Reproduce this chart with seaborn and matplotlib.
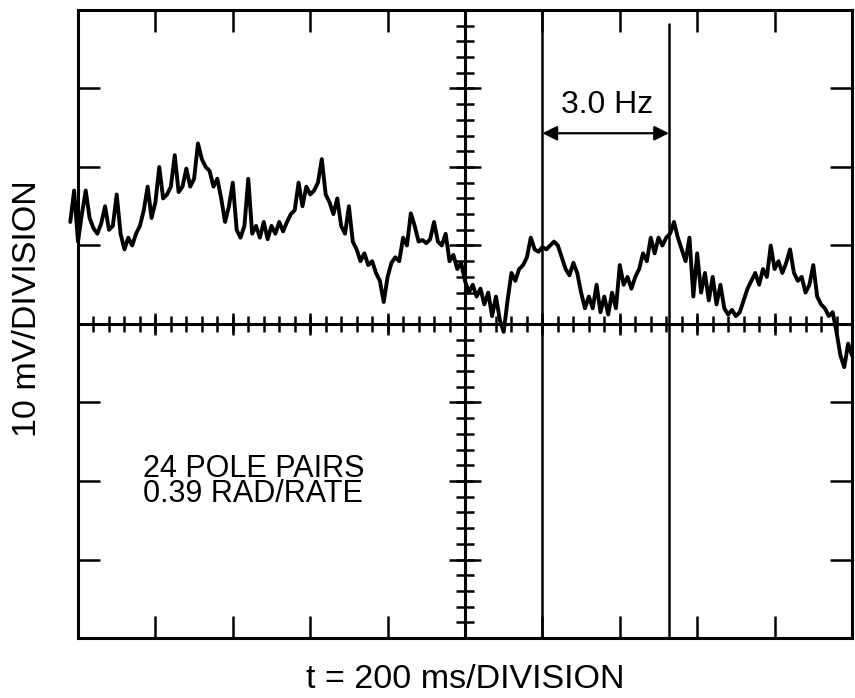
import matplotlib
matplotlib.use("Agg")
import matplotlib.pyplot as plt
import numpy as np
import pandas as pd
import seaborn as sns

# Oscilloscope trace: 10 ms per sample, starting at -20 ms
START_MS = -20
SAMPLE_MS = 10
TRACE_MV = [
    13.0, 17.0, 10.5, 14.0, 17.0, 13.5, 12.2, 11.5, 12.8, 15.0,
    12.0, 12.5, 16.5, 11.5, 9.5, 11.0, 10.0, 11.5, 12.5, 14.5,
    17.5, 13.5, 15.5, 20.0, 16.0, 16.5, 17.5, 21.5, 16.8, 17.5,
    19.8, 17.5, 18.5, 23.0, 21.0, 20.0, 19.5, 17.5, 18.5, 16.0,
    13.0, 15.0, 18.0, 12.0, 11.0, 12.5, 18.5, 11.5, 12.5, 11.0,
    13.0, 10.8, 12.5, 11.5, 13.0, 11.8, 13.0, 14.0, 14.5, 18.0,
    15.0, 17.5, 16.5, 17.0, 18.0, 21.0, 16.5, 15.5, 14.0, 16.0,
    12.5, 11.5, 15.0, 10.5, 9.5, 8.0, 9.0, 7.5, 8.0, 6.5,
    5.5, 2.8, 6.0, 7.8, 8.5, 8.0, 11.0, 10.0, 14.1, 12.5,
    10.5, 10.7, 10.3, 10.8, 13.0, 10.5, 10.0, 11.5, 8.0, 8.8,
    7.0, 7.8, 5.5, 4.0, 5.0, 3.5, 4.5, 2.5, 4.0, 1.0,
    3.5, 0.5, -1.0, 3.0, 6.5, 5.5, 7.0, 7.5, 8.5, 11.0,
    9.5, 9.2, 9.8, 9.5, 10.0, 10.5, 10.0, 8.5, 7.0, 6.2,
    7.8, 6.5, 4.0, 2.0, 3.5, 2.0, 5.0, 1.5, 3.5, 1.2,
    4.0, 2.0, 7.5, 5.0, 6.0, 4.5, 6.0, 7.0, 9.0, 8.0,
    11.0, 9.0, 11.0, 10.0, 11.0, 11.5, 13.0, 11.0, 9.5, 8.0,
    11.0, 3.5, 9.0, 4.0, 6.5, 3.0, 6.0, 2.5, 5.0, 2.0,
    1.2, 1.8, 1.0, 1.5, 3.0, 4.5, 5.5, 6.5, 5.0, 7.0,
    6.0, 10.0, 7.0, 8.0, 6.5, 7.8, 9.5, 6.5, 5.5, 6.0,
    4.0, 5.0, 7.5, 3.5, 2.5, 2.0, 1.0, 1.5, -1.0, -4.0,
    -5.5, -2.5, -4.0,
]
TIME_MS = [START_MS + SAMPLE_MS * i for i in range(len(TRACE_MV))]

# cursor lines bracketing one period (3.0 Hz)
CURSOR_MS = [1200, 1527]
CURSOR_LABEL = "3.0 Hz"
NOTE_LINES = ["24 POLE PAIRS", "0.39 RAD/RATE"]
X_LABEL = "t = 200 ms/DIVISION"
Y_LABEL = "10 mV/DIVISION"

X_DIV = 200   # ms per division
Y_DIV = 10    # mV per division


def main():
    sns.set_style("white")
    plt.rcParams["font.family"] = ["Liberation Sans", "DejaVu Sans"]
    plt.rcParams["text.color"] = "black"

    W, H = 855, 698
    fig = plt.figure(figsize=(W / 100, H / 100), dpi=100)
    ax = fig.add_axes([78 / W, 1 - 638 / H, (852 - 78) / W, (638 - 10) / H])

    df = pd.DataFrame({"t_ms": TIME_MS, "mv": TRACE_MV})
    sns.lineplot(data=df, x="t_ms", y="mv", color="black", linewidth=2.8,
                 estimator=None, ax=ax)
    for line in ax.lines:
        line.set_clip_on(False)

    ax.set_xlim(0, 10 * X_DIV)
    ax.set_ylim(-4 * Y_DIV, 4 * Y_DIV)
    ax.set_xlabel("")
    ax.set_ylabel("")

    # graticule frame with major division ticks pointing inwards
    for sp in ax.spines.values():
        sp.set_visible(True)
        sp.set_color("black")
        sp.set_linewidth(2.2)
    ax.set_xticks(np.arange(X_DIV, 10 * X_DIV, X_DIV))
    ax.set_yticks(np.arange(-3 * Y_DIV, 4 * Y_DIV, Y_DIV))
    ax.tick_params(direction="in", length=16, width=1.8, color="black",
                   top=True, right=True, bottom=True, left=True,
                   labelbottom=False, labelleft=False)

    # centre crosshair with sub-division ticks
    xc, yc = 5 * X_DIV, 0
    ax.axhline(yc, color="black", lw=2.2, zorder=3)
    ax.axvline(xc, color="black", lw=2.2, zorder=3)
    minor_x = np.arange(0, 10 * X_DIV + 1, X_DIV / 5)
    major_x = np.arange(X_DIV, 10 * X_DIV, X_DIV)
    ax.plot(minor_x, np.full_like(minor_x, yc), ls="none", marker="|",
            ms=11, mew=1.8, color="black", zorder=3)
    ax.plot(major_x, np.full_like(major_x, yc), ls="none", marker="|",
            ms=16, mew=1.8, color="black", zorder=3)
    minor_y = np.arange(-4 * Y_DIV, 4 * Y_DIV + 1, Y_DIV / 5)
    major_y = np.arange(-3 * Y_DIV, 4 * Y_DIV, Y_DIV)
    ax.plot(np.full_like(minor_y, xc), minor_y, ls="none", marker="_",
            ms=13, mew=1.8, color="black", zorder=3)
    ax.plot(np.full_like(major_y, xc), major_y, ls="none", marker="_",
            ms=23, mew=1.8, color="black", zorder=3)

    # period cursors and arrow
    ax.axvline(CURSOR_MS[0], color="black", lw=1.8)
    ax.axvline(CURSOR_MS[1], ymin=0, ymax=0.977, color="black", lw=1.8)
    ax.annotate("", xy=(CURSOR_MS[0], 24.3), xytext=(CURSOR_MS[1], 24.3),
                arrowprops=dict(arrowstyle="<|-|>", color="black", lw=1.6,
                                mutation_scale=22, shrinkA=0, shrinkB=0))
    ax.text(sum(CURSOR_MS) / 2 + 4, 26.9, CURSOR_LABEL, ha="center",
            va="baseline", fontsize=23)

    ax.text(168, -20.1, "\n".join(NOTE_LINES), ha="left", va="center",
            fontsize=22, linespacing=0.78)

    fig.text(465 / W, 1 - 680 / H, X_LABEL, ha="center", va="center",
             fontsize=24.5)
    fig.text(28 / W, 1 - 309 / H, Y_LABEL, ha="center", va="center",
             rotation=90, fontsize=24.5)

    fig.savefig("out.png", dpi=100)
    plt.close(fig)


if __name__ == "__main__":
    main()
